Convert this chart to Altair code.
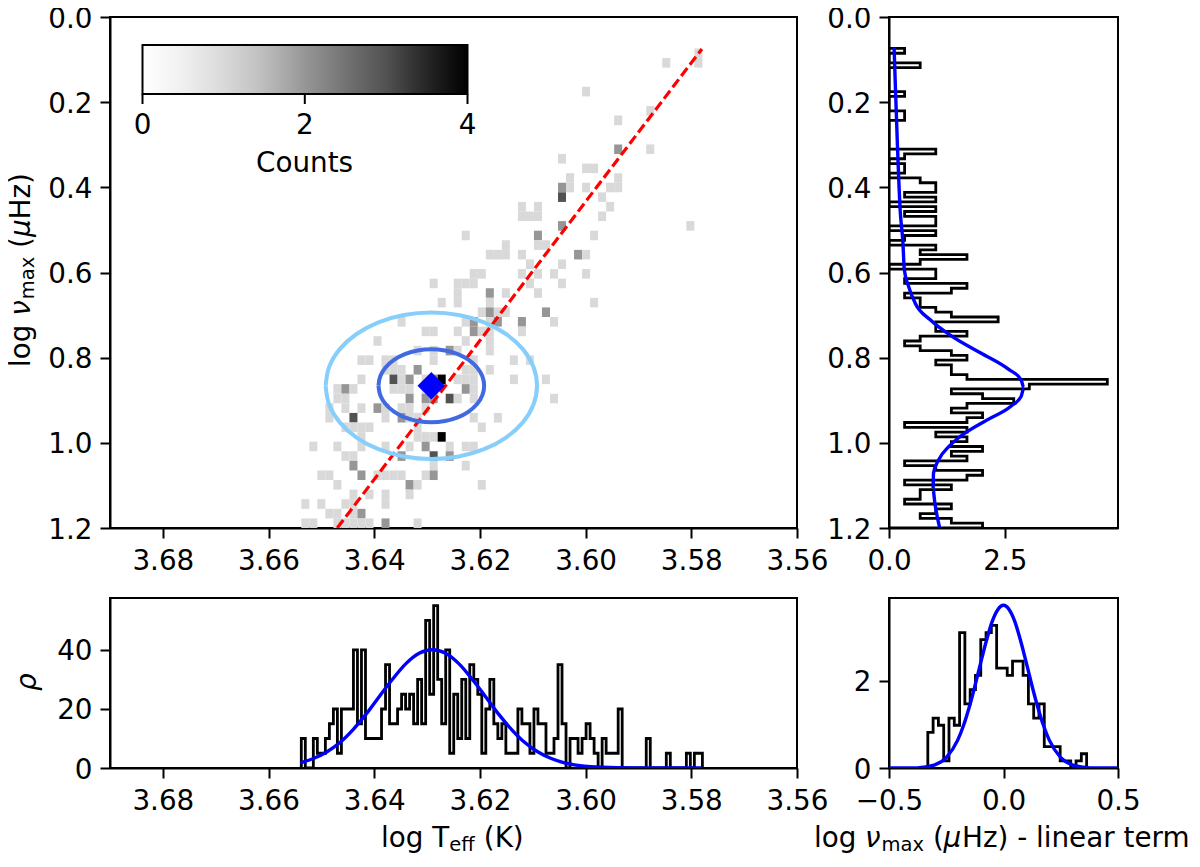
import altair as alt
import pandas as pd

FONT = "DejaVu Sans"
FS = 27.8
SUB = 19.5

# 2-D histogram: row -> columns (a column repeated n times holds n counts)
heat = {
    0: [49], 1: [45, 49], 4: [35], 6: [43], 7: [39], 10: [39, 39, 43], 11: [32], 12: [35, 36], 13: [33, 39],
    14: [32, 32, 33, 35, 38, 39], 15: [32, 32, 32, 37], 16: [27, 29, 38], 17: [27, 28, 29, 37], 18: [32, 32, 48],
    19: [20, 29, 29, 36], 20: [25, 29, 30], 21: [23, 24, 25, 27, 34, 34, 35], 22: [28, 32],
    23: [21, 22, 27, 29, 31, 35], 24: [16, 19, 20, 21, 28, 32], 25: [19, 23, 23, 25, 29], 26: [17, 19, 23, 36],
    27: [22, 23, 23, 24, 25, 30, 30], 28: [12, 20, 21, 21, 23, 24, 24, 27, 27, 31],
    29: [15, 16, 19, 21, 21, 22, 23, 27], 30: [9, 20, 23], 31: [14, 16, 18, 18, 19, 23],
    32: [7, 8, 10, 11, 16, 21, 26, 28], 33: [10, 11, 12, 14, 14, 20, 21, 23],
    34: [7, 11, 11, 11, 12, 13, 13, 15, 16, 16, 17, 17, 17, 17, 19, 20, 21, 26, 30],
    35: [4, 5, 5, 6, 11, 12, 13, 15, 16, 16, 20, 20, 21],
    36: [4, 5, 13, 13, 15, 15, 16, 16, 18, 18, 18, 19, 21, 31], 37: [3, 5, 7, 9, 9, 10, 12, 13, 15],
    38: [3, 6, 6, 6, 10, 12, 12, 13, 14, 21, 24], 39: [5, 6, 7, 8, 14, 22], 40: [7, 14, 15, 16, 17, 17, 17, 17],
    41: [1, 4, 7, 10, 13, 15, 15, 18, 20, 21], 42: [5, 6, 12, 12, 16, 16, 16, 18, 18], 43: [6, 6, 16, 20],
    44: [2, 3, 7, 7, 9, 10, 11, 12, 15, 16, 16], 45: [4, 13, 13, 14, 22], 46: [6, 8, 10, 13],
    47: [0, 2, 5, 6, 10], 48: [3, 4, 6, 7, 7], 49: [0, 1, 4, 5, 6, 7, 8, 10, 10, 14],
}

teff_counts = [2, 0, 0, 2, 1, 1, 2, 3, 4, 1, 4, 4, 4, 8, 3, 8, 2, 2, 2, 2, 4, 7, 3, 3, 4, 5, 4, 5, 3, 6,
               3, 10, 5, 11, 6, 3, 8, 1, 5, 2, 6, 2, 7, 6, 5, 1, 4, 6, 3, 2, 3, 1, 1, 1, 4, 3, 3, 1, 4, 3,
               3, 1, 1, 2, 7, 3, 0, 2, 2, 1, 2, 3, 2, 1, 0, 2, 1, 1, 1, 4, 0, 0, 0, 0, 0, 0, 2, 0, 0, 0,
               0, 1, 0, 0, 0, 0, 1, 0, 1, 1]
numax_counts = [1, 0, 0, 2, 0, 0, 0, 0, 0, 1, 0, 0, 0, 1, 1, 0, 0, 0, 0, 0, 0, 3, 1, 0, 1, 1, 0, 2, 3, 3,
                1, 3, 0, 3, 1, 3, 3, 0, 3, 1, 0, 3, 2, 5, 2, 0, 3, 3, 1, 5, 4, 1, 2, 2, 3, 4, 7, 3, 3, 5,
                2, 1, 2, 4, 5, 3, 4, 4, 5, 14, 9, 4, 6, 8, 5, 4, 6, 5, 1, 5, 3, 5, 4, 6, 4, 5, 1, 3, 6, 5,
                1, 4, 2, 2, 1, 4, 3, 2, 4, 6]
resid_counts = [5, 7, 6, 1, 7, 6, 19, 9, 11, 13, 18, 19, 20, 14, 14, 13, 15, 15, 13, 9, 7, 9, 3, 3, 3, 1, 1, 0, 1, 2]
N_STARS = 264

TEFF_HI, TEFF_LO = 3.6538, 3.5779
NU_LO, NU_HI = 0.0739, 1.2
RES_LO, RES_HI = -0.3305, 0.363

# blue curves
teff_curve_x = [3.654, 3.6515, 3.649, 3.6465, 3.644, 3.6415, 3.639, 3.6365, 3.634, 3.6315, 3.629, 3.6265, 3.624,
                3.6215, 3.619, 3.6165, 3.614, 3.6115, 3.609, 3.6065, 3.604, 3.599, 3.594, 3.589, 3.578]
teff_curve_y = [1.75, 3.2, 5.4, 8.6, 13, 18.3, 24.3, 30.1, 35.3, 38.8, 40, 38.8, 35.3, 30.1, 24.3, 18.3, 13, 8.6,
                5.4, 3.2, 1.75, 0.44, 0.09, 0.01, 0]
nu_curve_y = [0.072, 0.138, 0.295, 0.452, 0.53, 0.593, 0.632, 0.672, 0.711, 0.75, 0.789, 0.828, 0.852, 0.871, 0.891,
              0.914, 0.946, 0.985, 1.009, 1.04, 1.071, 1.11, 1.142, 1.173, 1.198]
nu_curve_x = [0.11, 0.13, 0.18, 0.24, 0.30, 0.33, 0.42, 0.565, 0.89, 1.36, 1.98, 2.59, 2.85, 2.91, 2.85,
              2.63, 2.12, 1.54, 1.29, 1.07, 0.96, 0.95, 0.99, 1.04, 1.09]
res_curve_x = [-0.5, -0.4, -0.35, -0.3, -0.25, -0.2, -0.175, -0.15, -0.125, -0.1, -0.075, -0.05, -0.025, 0,
               0.025, 0.05, 0.075, 0.1, 0.125, 0.15, 0.175, 0.2, 0.25, 0.3, 0.35, 0.4, 0.5]
res_curve_y = [0, 0, 0.02, 0.07, 0.24, 0.64, 0.97, 1.39, 1.88, 2.41, 2.92, 3.36, 3.64, 3.74,
               3.64, 3.36, 2.92, 2.41, 1.88, 1.39, 0.97, 0.64, 0.24, 0.07, 0.02, 0, 0]

# red ridge line, central point and contours
ridge_x = [3.647, 3.578]
ridge_y = [1.2, 0.075]
center_x = 3.6292
center_y = 0.866
ring_dx = [1, .966, .866, .707, .5, .259, 0, -.259, -.5, -.707, -.866, -.966, -1,
           -.966, -.866, -.707, -.5, -.259, 0, .259, .5, .707, .866, .966, 1]
ring_dy = [0, .259, .5, .707, .866, .966, 1, .966, .866, .707, .5, .259, 0,
           -.259, -.5, -.707, -.866, -.966, -1, -.966, -.866, -.707, -.5, -.259, 0]
inner_axes = (0.0100, 0.0858)
outer_axes = (0.0200, 0.1720)

teff_ticks = [3.68, 3.66, 3.64, 3.62, 3.60, 3.58, 3.56]
nu_ticks = [0.0, 0.2, 0.4, 0.6, 0.8, 1.0, 1.2]
bar_labels = [("0", 142.5), ("2", 304.8), ("4", 467.5)]

GREY_DOMAIN = [0, 0.5, 1, 1.5, 2, 2.5, 3, 3.5, 4]
GREY_RANGE = ["#ffffff", "#f0f0f0", "#d9d9d9", "#bdbdbd", "#969696", "#737373", "#525252", "#252525", "#000000"]

# panel origins in the picture (used only for text placement)
AX = (110, 18)
BX = (889, 18)
CX = (110, 599)
DX = (889, 599)


def outline(lo, hi, counts):
    n = len(counts)
    w = (hi - lo) / n
    rows = [(lo, 0.0)]
    for k, c in enumerate(counts):
        d = c / (N_STARS * abs(w))
        rows.append((lo + k * w, d))
        rows.append((lo + (k + 1) * w, d))
    rows.append((hi, 0.0))
    return pd.DataFrame({"edge": [r[0] for r in rows], "dens": [r[1] for r in rows], "i": list(range(len(rows)))})


def words(origin, pieces, align="left"):
    """pieces: (text, image x, image y, size, style, angle)"""
    out = []
    one = pd.DataFrame({"a": [0]})
    for t, x, y, size, style, angle in pieces:
        out.append(alt.Chart(one).mark_text(text=t, font=FONT, fontSize=size, fontStyle=style, color="black",
                                            align=align, baseline="alphabetic", angle=angle, clip=False)
                   .encode(x=alt.value(x - origin[0]), y=alt.value(y - origin[1])))
    return out


def ax(values, fmt, pad=9, offset=0):
    return alt.Axis(values=values, format=fmt, title=None, grid=False, tickSize=10, tickWidth=2, tickColor="black",
                    domainColor="black", domainWidth=2, labelFont=FONT, labelFontSize=FS, labelColor="black",
                    labelPadding=pad, labelFlush=False, labelOverlap=False, labelOffset=offset, labelBound=False)


xA = alt.X("x:Q", scale=alt.Scale(domain=[3.69, 3.56], nice=False, zero=False), axis=ax(teff_ticks, ".2f", pad=9))
yA = alt.Y("y:Q", scale=alt.Scale(domain=[1.2, 0.0], nice=False, zero=False), axis=ax(nu_ticks, ".1f", pad=8, offset=2))

# ---- main panel
cw = (TEFF_HI - TEFF_LO) / 50
rh = (NU_HI - NU_LO) / 50
cells = []
for r, cols in heat.items():
    for c in sorted(set(cols)):
        cells.append({"x": TEFF_HI - c * cw, "x2": TEFF_HI - (c + 1) * cw, "y": NU_LO + r * rh,
                      "y2": NU_LO + (r + 1) * rh, "count": cols.count(c)})
heat_df = pd.DataFrame(cells)

heat_layer = alt.Chart(heat_df).mark_rect(strokeWidth=0).encode(
    x=xA, x2="x2:Q", y=yA, y2="y2:Q",
    color=alt.Color("count:Q",
                    scale=alt.Scale(domain=GREY_DOMAIN, range=GREY_RANGE, interpolate="rgb"),
                    legend=alt.Legend(orient="none", legendX=32.5, legendY=28, direction="horizontal",
                                      gradientLength=325, gradientThickness=49, gradientStrokeColor="black",
                                      gradientStrokeWidth=2, values=[0, 2, 4], title=None,
                                      labelExpr="''", labelFontSize=1, labelOverlap=False)),
)
ridge = alt.Chart(pd.DataFrame({"x": ridge_x, "y": ridge_y})).mark_line(
    color="red", strokeWidth=3.2, strokeDash=[10, 4.2], clip=True).encode(x=xA, y=yA)


def ring(axes, colour):
    df = pd.DataFrame({"x": [center_x + axes[0] * d for d in ring_dx],
                       "y": [center_y + axes[1] * d for d in ring_dy],
                       "i": list(range(len(ring_dx)))})
    return alt.Chart(df).mark_line(color=colour, strokeWidth=4, interpolate="cardinal").encode(
        x=xA, y=yA, order="i:Q")


diamond = alt.Chart(pd.DataFrame({"x": [center_x], "y": [center_y]})).mark_point(
    shape="diamond", filled=True, color="#0000ff", size=760, opacity=1).encode(x=xA, y=yA)

bar_ticks = [alt.Chart(pd.DataFrame({"a": [0]})).mark_rule(color="black", strokeWidth=2).encode(
    x=alt.value(px - AX[0]), y=alt.value(95 - AX[1]), y2=alt.value(105 - AX[1])) for _, px in bar_labels]
bar_text = words(AX, [(t, px, 135, FS, "normal", 0) for t, px in bar_labels] +
                 [("Counts", 304.5, 173, FS, "normal", 0)], align="center")

y_title = words(AX, [("log", 29.5, 368, FS, "normal", 270), ("ν", 29.5, 316.8, FS, "italic", 270),
                     ("max", 33.5, 300.3, SUB, "normal", 270), ("(", 29.5, 249, FS, "normal", 270),
                     ("μ", 29.5, 238, FS, "italic", 270), ("Hz)", 29.5, 220.4, FS, "normal", 270)])

panelA = alt.layer(heat_layer, ridge, ring(outer_axes, "#87cefa"), ring(inner_axes, "#4169e1"), diamond,
                   *bar_ticks, *bar_text, *y_title).properties(width=687, height=511)

# ---- right panel
xB = alt.X("dens:Q", scale=alt.Scale(domain=[0, 4.94], nice=False, zero=False), axis=ax([0, 2.5], ".1f", pad=9))
yB = alt.Y("edge:Q", scale=alt.Scale(domain=[1.2, 0.0], nice=False, zero=False), axis=ax(nu_ticks, ".1f", pad=8, offset=2))
histB = alt.Chart(outline(NU_LO, NU_HI, numax_counts)).mark_line(color="black", strokeWidth=2.8, clip=True).encode(
    x=xB, y=yB, order="i:Q")
curveB = alt.Chart(pd.DataFrame({"dens": nu_curve_x, "edge": nu_curve_y})).mark_line(
    color="#0000ff", strokeWidth=3.4, interpolate="monotone", clip=True).encode(x=xB, y=yB, order="edge:Q")
panelB = alt.layer(histB, curveB).properties(width=229, height=511)

# ---- bottom panel
xC = alt.X("edge:Q", scale=alt.Scale(domain=[3.69, 3.56], nice=False, zero=False), axis=ax(teff_ticks, ".2f", pad=9))
yC = alt.Y("dens:Q", scale=alt.Scale(domain=[0, 57.5], nice=False, zero=False), axis=ax([0, 20, 40], "d", pad=8, offset=2))
histC = alt.Chart(outline(TEFF_HI, TEFF_LO, teff_counts)).mark_line(
    color="black", strokeWidth=2.8, clip=True).encode(x=xC, y=yC, order="i:Q")
curveC = alt.Chart(pd.DataFrame({"edge": teff_curve_x, "dens": teff_curve_y})).mark_line(
    color="#0000ff", strokeWidth=3.4, interpolate="monotone", clip=True).encode(x=xC, y=yC, order=alt.Order("edge:Q", sort="descending"))
x_title = words(CX, [("log T", 381, 848, FS, "normal", 0), ("eff", 449.2, 852, SUB, "normal", 0),
                     ("(K)", 483.8, 848, FS, "normal", 0)])
rho_title = words(CX, [("ρ", 36, 692, FS, "italic", 270)])
panelC = alt.layer(histC, curveC, *x_title, *rho_title).properties(width=687, height=170)

# ---- bottom right panel
xD = alt.X("edge:Q", scale=alt.Scale(domain=[-0.5, 0.5], nice=False, zero=False), axis=ax([-0.5, 0, 0.5], ".1f", pad=9))
yD = alt.Y("dens:Q", scale=alt.Scale(domain=[0, 3.908], nice=False, zero=False), axis=ax([0, 2], "d", pad=8, offset=2))
histD = alt.Chart(outline(RES_LO, RES_HI, resid_counts)).mark_line(color="black", strokeWidth=2.8, clip=True).encode(
    x=xD, y=yD, order="i:Q")
curveD = alt.Chart(pd.DataFrame({"edge": res_curve_x, "dens": res_curve_y})).mark_line(
    color="#0000ff", strokeWidth=3.4, interpolate="monotone", clip=True).encode(x=xD, y=yD, order="edge:Q")
d_title = words(DX, [("log", 814, 848, FS, "normal", 0), ("ν", 865, 848, FS, "italic", 0),
                     ("max", 881.5, 852, SUB, "normal", 0), ("(", 933, 848, FS, "normal", 0),
                     ("μ", 943.5, 848, FS, "italic", 0), ("Hz) - linear term", 962, 848, FS, "normal", 0)])
panelD = alt.layer(histD, curveD, *d_title).properties(width=229, height=170)

chart = alt.concat(panelA, panelB, panelC, panelD, columns=2, spacing={"row": 70, "column": 92}, bounds="flush",
                   padding={"left": -2, "top": -4, "right": 0, "bottom": 0}, background="white").resolve_scale(
    x="independent", y="independent", color="independent"
).configure_view(stroke="black", strokeWidth=2)

chart.save("out.html", embed_options={"renderer": "svg", "actions": False})
